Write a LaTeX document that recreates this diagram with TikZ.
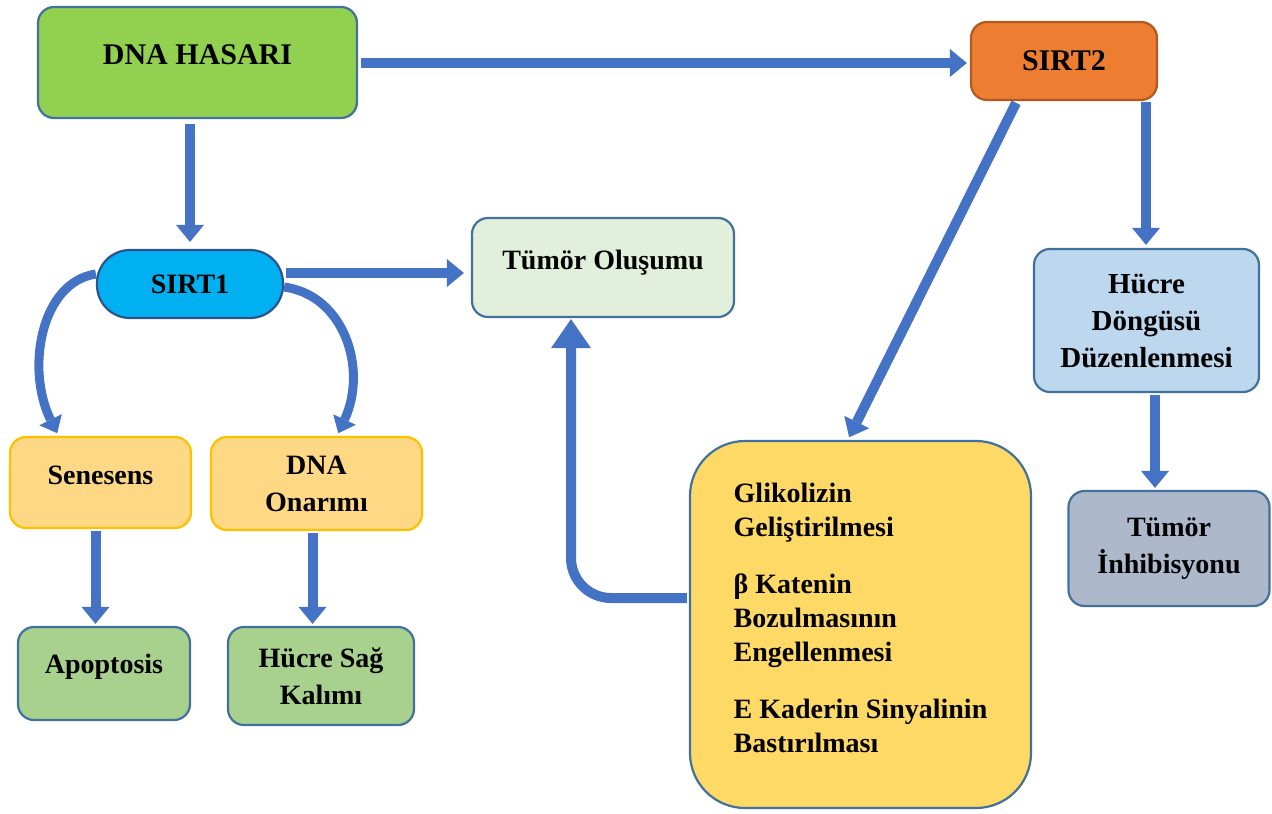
\documentclass[tikz,border=0pt]{standalone}
\usepackage{fontspec}
\setmainfont{Liberation Serif}
\usetikzlibrary{arrows.meta,calc}
\definecolor{bdr}{HTML}{41719C}
\definecolor{ablue}{HTML}{4472C4}
\definecolor{dnagreen}{HTML}{92D050}
\definecolor{sirtorange}{HTML}{ED7D31}
\definecolor{sirtorangeb}{HTML}{AE5A21}
\definecolor{sirtblue}{HTML}{00B0F0}
\definecolor{sirtblueb}{HTML}{2F528F}
\definecolor{tumgreen}{HTML}{E2EFDA}
\definecolor{peach}{HTML}{FFD885}
\definecolor{goldb}{HTML}{FFC000}
\definecolor{midgreen}{HTML}{A9D18E}
\definecolor{yellowc}{HTML}{FFD966}
\definecolor{lightblue}{HTML}{BDD7EE}
\definecolor{greyblue}{HTML}{ADB9CA}
\begin{document}
\begin{tikzpicture}[x=1pt,y=-1pt,
  box/.style={draw=bdr, line width=2.2pt, rounded corners=16pt, inner sep=0pt,
    align=center, font=\bfseries\fontsize{28}{37}\selectfont},
  arr/.style={draw=ablue, line width=10pt,
    -{Triangle[width=28pt,length=17pt,line width=0pt]}},
  curvearr/.style={draw=ablue, line width=9pt,
    -{Triangle[width=25pt,length=15pt,line width=0pt]}},
  bigarr/.style={draw=ablue, line width=10pt, rounded corners=40pt,
    -{Triangle[width=40pt,length=29pt,line width=0pt]}},
]
\useasboundingbox (0,0) rectangle (1272,814);

% boxes
\node[box, fill=dnagreen, minimum width=319, minimum height=111,
  font=\bfseries\fontsize{30}{37}\selectfont, text height=20pt, text depth=16pt]
  (dna) at (197.5,62.5) {DNA HASARI};
\node[box, fill=sirtorange, draw=sirtorangeb, minimum width=186, minimum height=78,
  font=\bfseries\fontsize{30}{37}\selectfont] (s2) at (1064,61) {SIRT2};
\node[box, fill=sirtblue, draw=sirtblueb, minimum width=186, minimum height=68,
  rounded corners=33pt] (s1) at (190,284) {SIRT1};
\node[box, fill=tumgreen, minimum width=262, minimum height=99,
  text height=19pt, text depth=16pt] (tum) at (603,267.5) {Tümör Oluşumu};
\node[box, fill=peach, draw=goldb, minimum width=181, minimum height=91,
  text height=19pt, text depth=16pt] (sen) at (100.5,482.5) {Senesens};
\node[box, fill=peach, draw=goldb, minimum width=211, minimum height=93]
  (onar) at (316.5,483.5) {DNA\\Onarımı};
\node[box, fill=midgreen, minimum width=172, minimum height=93,
  text height=19pt, text depth=20pt] (apo) at (104,673.5) {Apoptosis};
\node[box, fill=midgreen, minimum width=186, minimum height=98]
  (hsk) at (321,676) {Hücre Sağ\\Kalımı};
\node[box, fill=yellowc, minimum width=341, minimum height=367,
  rounded corners=55pt, align=left, font=\bfseries\fontsize{28}{34}\selectfont,
  text depth=14pt]
  (yel) at (860.5,624.5)
  {Glikolizin\\Geliştirilmesi\\[23pt]β Katenin\\Bozulmasının\\Engellenmesi\\[23pt]E Kaderin Sinyalinin\\Bastırılması};
\node[box, fill=lightblue, minimum width=225, minimum height=143,
  font=\bfseries\fontsize{29}{37}\selectfont]
  (hdd) at (1146.5,320.5) {Hücre\\Döngüsü\\Düzenlenmesi};
\node[box, fill=greyblue, minimum width=201, minimum height=115]
  (tinh) at (1169,548.5) {Tümör\\İnhibisyonu};

% connectors
\draw[arr, shorten <=3pt, shorten >=3pt] ([yshift=-0.5pt]dna.east) -- ([yshift=-2pt]s2.west);
\draw[arr, shorten <=5pt, shorten >=7pt] ([xshift=-7.5pt]dna.south) -- ([xshift=-7.5pt]dna.south |- s1.north);
\draw[arr, shorten <=2pt, shorten >=7pt] ([yshift=11pt]s1.east) -- ([yshift=11pt]s1.east -| tum.west);
\draw[curvearr, shorten >=3pt] ([yshift=10pt]s1.west)
  .. controls +(-55,8) and +(-33,-67) .. ([xshift=-42pt]sen.north);
\draw[curvearr, shorten >=3pt] ([yshift=-3pt]s1.east)
  .. controls +(60,8) and +(31,-67) .. ([xshift=20.5pt]onar.north);
\draw[arr, shorten <=2pt, shorten >=2pt] ([xshift=-5pt]sen.south) -- ([xshift=-5pt]sen.south |- apo.north);
\draw[arr, shorten <=2pt, shorten >=2pt] ([xshift=-4pt]onar.south) -- ([xshift=-4pt]onar.south |- hsk.north);
\draw[arr, shorten <=2pt, shorten >=3pt] ($(s2.south west)!0.25!(s2.south east)$) -- ($(yel.north west)!0.463!(yel.north east)$);
\draw[arr, shorten <=1pt, shorten >=3pt] ([xshift=82pt]s2.south) -- ([xshift=82pt]s2.south |- hdd.north);
\draw[arr, shorten <=2pt, shorten >=2pt] ([xshift=8.5pt]hdd.south) -- ([xshift=8.5pt]hdd.south |- tinh.north);
\draw[bigarr, shorten <=2pt, shorten >=1pt] ([yshift=26.5pt]yel.west) -| ([xshift=-32pt]tum.south);
\end{tikzpicture}
\end{document}
